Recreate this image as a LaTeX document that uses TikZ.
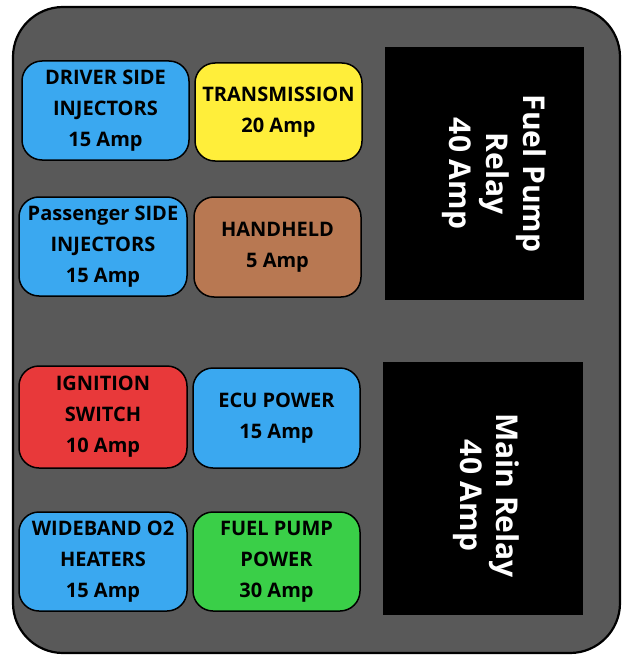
\documentclass[tikz,border=0pt]{standalone}
\usepackage{fontspec}
\setmainfont{Open Sans}
\definecolor{housing}{RGB}{89,89,89}
\definecolor{fuseblue}{RGB}{58,168,240}
\definecolor{fuseyellow}{RGB}{255,238,58}
\definecolor{fusebrown}{RGB}{184,120,82}
\definecolor{fusered}{RGB}{232,57,58}
\definecolor{fusegreen}{RGB}{58,207,72}
\tikzset{
  fuse/.style={draw=black, line width=1.5pt, rounded corners=20pt, text=black,
    font=\bfseries\fontsize{20}{31}\selectfont, align=center, inner sep=0pt},
  relay/.style={fill=black, draw=none, inner sep=0pt},
  relaytext/.style={text=white, rotate=-90, align=center, inner sep=0pt,
    font=\bfseries\fontsize{30}{37}\selectfont}
}
\begin{document}
\begin{tikzpicture}[x=1pt,y=-1pt]
\useasboundingbox (0,0) rectangle (624,658);
\draw[line width=2.2pt, fill=housing, rounded corners=50pt] (13,7) rectangle (620,653);
% fuses
\node[fuse, fill=fuseblue, minimum width=167pt, minimum height=99pt] (driver) at (105.5,110.5) {DRIVER SIDE\\INJECTORS\\15 Amp};
\node[fuse, fill=fuseyellow, minimum width=167pt, minimum height=98pt] (trans) at (278.5,112) {TRANSMISSION\\20 Amp};
\node[fuse, fill=fuseblue, minimum width=168pt, minimum height=99pt] (pass) at (103,246.5) {Passenger SIDE\\INJECTORS\\15 Amp};
\node[fuse, fill=fusebrown, minimum width=167pt, minimum height=100pt] (hand) at (277.5,247) {HANDHELD\\5 Amp};
\node[fuse, fill=fusered, minimum width=168pt, minimum height=102pt] (ign) at (103,417) {IGNITION\\SWITCH\\10 Amp};
\node[fuse, fill=fuseblue, minimum width=167pt, minimum height=100pt] (ecu) at (276.5,418) {ECU POWER\\15 Amp};
\node[fuse, fill=fuseblue, minimum width=168pt, minimum height=99pt] (wide) at (103,561.5) {WIDEBAND O2\\HEATERS\\15 Amp};
\node[fuse, fill=fusegreen, minimum width=167pt, minimum height=99pt] (fpp) at (276.5,561.5) {FUEL PUMP\\POWER\\30 Amp};
% relays
\node[relay, minimum width=199pt, minimum height=253pt] (fprelay) at (484.5,173.5) {};
\node[relaytext] (fprelaytext) at ([xshift=10pt]fprelay.center) {Fuel Pump\\Relay\\40 Amp};
\node[relay, minimum width=200pt, minimum height=253pt] (mainrelay) at (483,488.5) {};
\node[relaytext, font=\bfseries\fontsize{30}{36}\selectfont] (mainrelaylabel) at ([xshift=3pt,yshift=-7pt]mainrelay.center) {Main Relay\\40 Amp};
\end{tikzpicture}
\end{document}
